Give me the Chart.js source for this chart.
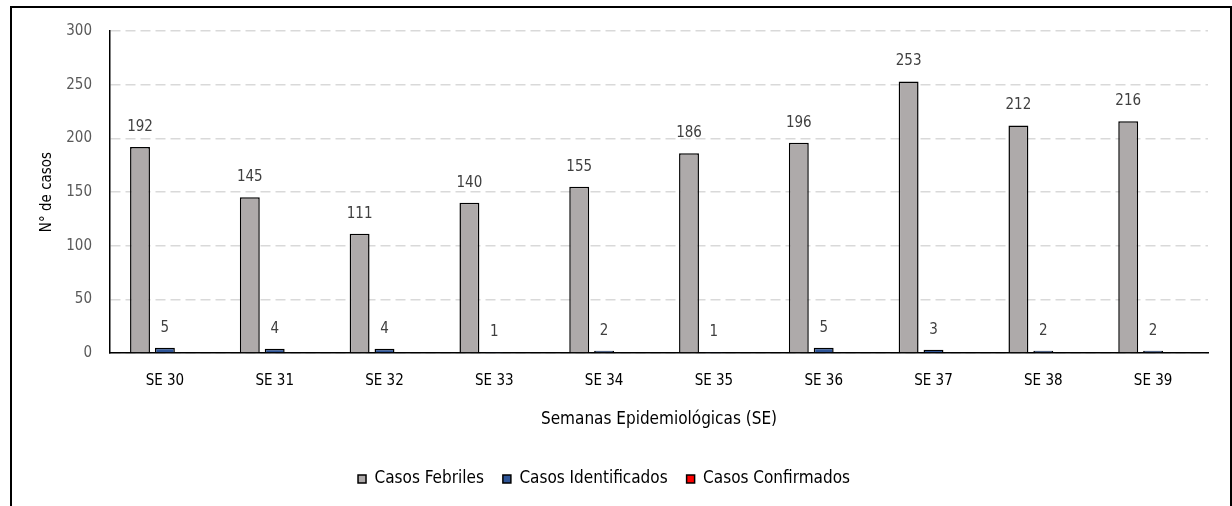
<!DOCTYPE html>
<html>
<head>
<meta charset="utf-8">
<script src="https://cdn.jsdelivr.net/npm/chart.js@4"></script>
<style>
    html, body { margin: 0; padding: 0; background: #fff; }
    #marco { position: absolute; left: 10px; top: 6px; width: 1222px; height: 520px; border: 2px solid #000; box-sizing: border-box; }
    #wrap { position: absolute; left: 0; top: 0; width: 1232px; height: 506px; }
</style>
</head>
<body>
<div id="marco"></div>
<div id="wrap"><canvas id="casosChart" width="1232" height="506"></canvas></div>
<script>
const semanas = ['SE 30', 'SE 31', 'SE 32', 'SE 33', 'SE 34', 'SE 35', 'SE 36', 'SE 37', 'SE 38', 'SE 39'];
const febriles = [192, 145, 111, 140, 155, 186, 196, 253, 212, 216];
const identificados = [5, 4, 4, 1, 2, 1, 5, 3, 2, 2];
const confirmados = [0, 0, 0, 0, 0, 0, 0, 0, 0, 0];
const ticksY = [0, 50, 100, 150, 200, 250, 300];

const fuente = '"DejaVu Sans Condensed", "DejaVu Sans", sans-serif';

// etiquetas de valor sobre cada barra
const etiquetas = {
    id: 'etiquetas',
    afterDatasetsDraw(chart) {
        const ctx = chart.ctx;
        ctx.save();
        ctx.font = '15px ' + fuente;
        ctx.fillStyle = '#404040';
        ctx.textAlign = 'center';
        ctx.textBaseline = 'middle';
        chart.data.datasets.forEach((ds, i) => {
            chart.getDatasetMeta(i).data.forEach((bar, j) => {
                if (ds.data[j] > 0) ctx.fillText(ds.data[j], bar.x, bar.y - 20);
            });
        });
        ctx.restore();
    }
};

new Chart(document.getElementById('casosChart'), {
    type: 'bar',
    data: {
        labels: semanas,
        datasets: [{
            label: 'Casos Febriles',
            data: febriles,
            backgroundColor: '#AEAAAA',
            borderColor: '#000',
            borderWidth: 1.5
        }, {
            label: 'Casos Identificados',
            data: identificados,
            backgroundColor: '#2F5597',
            borderColor: '#000',
            borderWidth: 1.5
        }, {
            label: 'Casos Confirmados',
            data: confirmados,
            backgroundColor: '#FF0000',
            borderColor: '#000',
            borderWidth: 1.5
        }]
    },
    options: {
        responsive: false,
        animation: false,
        categoryPercentage: 0.68,
        barPercentage: 0.8,
        layout: { padding: { left: 0, top: 31, right: 24, bottom: 8.5 } },
        plugins: {
            tooltip: { enabled: false },
            legend: {
                position: 'bottom',
                labels: {
                    boxWidth: 8,
                    boxHeight: 8,
                    padding: 19,
                    color: '#000',
                    font: { family: fuente, size: 17 }
                }
            }
        },
        scales: {
            x: {
                afterFit: s => { s.height = 98.5; },
                grid: { display: false, drawTicks: false },
                border: { color: '#000', width: 1.5 },
                ticks: { color: '#000', padding: 19, font: { family: fuente, size: 15 } },
                title: {
                    display: true,
                    text: 'Semanas Epidemiológicas (SE)',
                    color: '#000',
                    padding: { bottom: 21.5 },
                    font: { family: fuente, size: 17 }
                }
            },
            y: {
                min: 0,
                max: 300,
                afterFit: s => { s.width = 110; },
                afterBuildTicks: s => { s.ticks = ticksY.map(v => ({ value: v })); },
                grid: { color: '#D9D9D9', lineWidth: 1.5, drawTicks: false },
                border: { color: '#000', width: 1.5, dash: [10, 5] },
                ticks: { color: '#595959', padding: 18, font: { family: fuente, size: 15 } },
                title: {
                    display: true,
                    text: 'N° de casos',
                    color: '#000',
                    padding: { top: 38 },
                    font: { family: fuente, size: 15 }
                }
            }
        }
    },
    plugins: [etiquetas]
});
</script>
</body>
</html>
